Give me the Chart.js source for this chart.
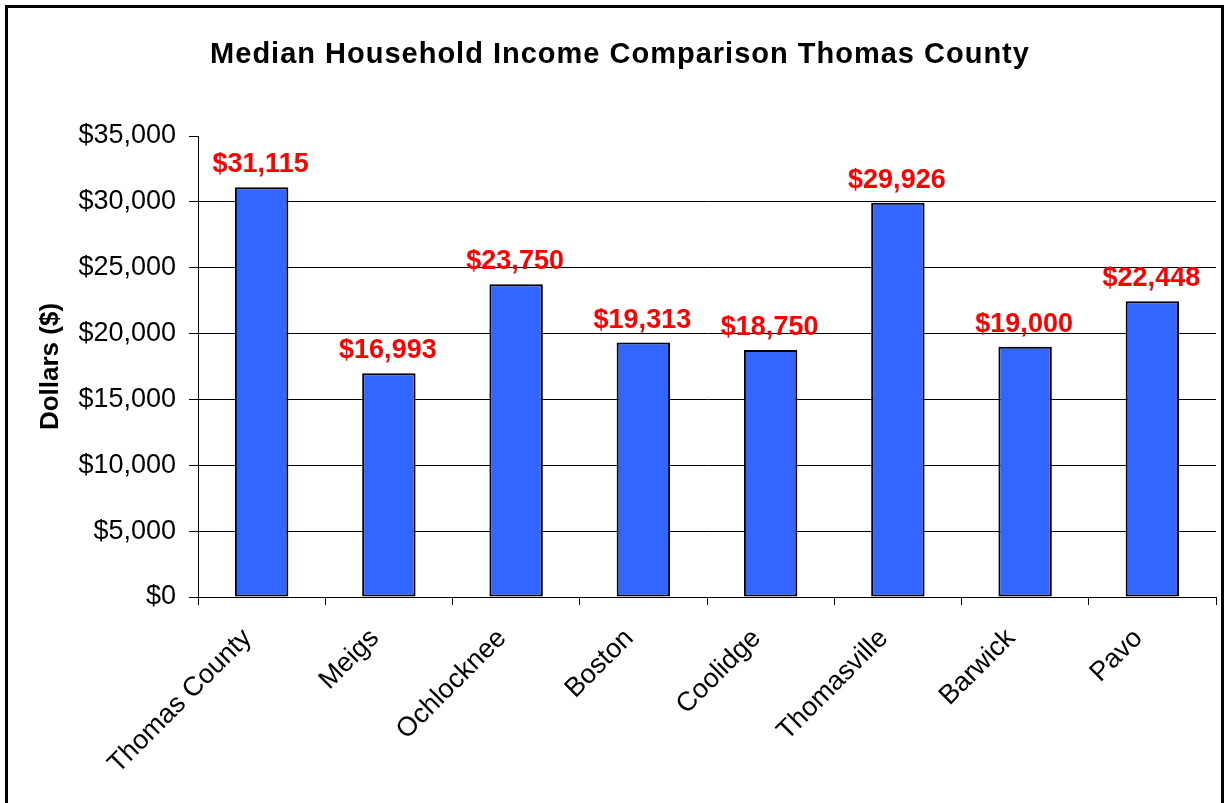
<!DOCTYPE html>
<html>
<head>
<meta charset="utf-8">
<title>Median Household Income Comparison Thomas County</title>
<script src="https://cdn.jsdelivr.net/npm/chart.js@4.4.0/dist/chart.umd.min.js"></script>
<style>
  html, body { margin: 0; padding: 0; background: #fff; }
  canvas { display: block; }
</style>
</head>
<body>
<canvas id="incomeChart" width="1228" height="803"></canvas>
<script>
// places and their median household income
const places = ['Thomas County', 'Meigs', 'Ochlocknee', 'Boston', 'Coolidge', 'Thomasville', 'Barwick', 'Pavo'];
const medianIncome = [31115, 16993, 23750, 19313, 18750, 29926, 19000, 22448];
const yMin = 0;
const yMax = 35000;
const yStep = 5000;

const FONT = "'Liberation Sans', Arial, sans-serif";
const dollars = v => '$' + Number(v).toLocaleString('en-US');

// white page, frame, title and axis title
const framePlugin = {
    id: 'frame',
    beforeDraw(chart) {
        const c = chart.ctx;
        c.save();
        c.fillStyle = '#fff';
        c.fillRect(0, 0, chart.width, chart.height);
        c.restore();
    },
    afterDraw(chart) {
        const c = chart.ctx;
        const area = chart.chartArea;
        c.save();
        c.strokeStyle = '#000';
        c.lineWidth = 3;
        c.strokeRect(6.5, 6.5, 1216, 830);

        c.fillStyle = '#000';
        c.font = 'bold 29px ' + FONT;
        c.letterSpacing = '1px';
        c.textAlign = 'center';
        c.textBaseline = 'alphabetic';
        c.fillText('Median Household Income Comparison Thomas County', 620, 63);
        c.letterSpacing = '0px';

        c.translate(58, (area.top + area.bottom) / 2);
        c.rotate(-Math.PI / 2);
        c.font = 'bold 26px ' + FONT;
        c.fillText('Dollars ($)', 0, 0);
        c.restore();
    }
};

// rotated category names under the axis
const categoryLabels = {
    id: 'categoryLabels',
    afterDraw(chart) {
        const c = chart.ctx;
        const xs = chart.scales.x;
        c.save();
        c.fillStyle = '#000';
        c.font = '27px ' + FONT;
        c.textAlign = 'right';
        c.textBaseline = 'middle';
        places.forEach((name, i) => {
            c.save();
            c.translate(xs.getPixelForTick(i) - 14, xs.top + 37);
            c.rotate(-Math.PI / 4);
            c.fillText(name, 0, 0);
            c.restore();
        });
        c.restore();
    }
};

// red value above each bar
const valueLabels = {
    id: 'valueLabels',
    afterDatasetsDraw(chart) {
        const c = chart.ctx;
        const meta = chart.getDatasetMeta(0);
        c.save();
        c.fillStyle = '#ff0000';
        c.font = 'bold 27px ' + FONT;
        c.textAlign = 'center';
        c.textBaseline = 'alphabetic';
        meta.data.forEach((bar, i) => {
            c.fillText(dollars(medianIncome[i]), bar.x - 1, bar.y - 15);
        });
        c.restore();
    }
};

new Chart(document.getElementById('incomeChart'), {
    type: 'bar',
    data: {
        labels: places,
        datasets: [{
            data: medianIncome,
            backgroundColor: '#3366ff',
            borderColor: '#000',
            borderWidth: 2,
            borderSkipped: false,
            barPercentage: 0.42,
            categoryPercentage: 1
        }]
    },
    options: {
        responsive: false,
        animation: false,
        devicePixelRatio: 1,
        layout: { padding: { top: 136, right: 12, bottom: 0, left: 0 } },
        plugins: {
            legend: { display: false },
            title: { display: false },
            tooltip: { enabled: false }
        },
        scales: {
            x: {
                grid: {
                    offset: true,
                    drawOnChartArea: false,
                    color: '#000',
                    tickLength: 8
                },
                border: { color: '#000', width: 1 },
                ticks: { display: false },
                afterFit(scale) { scale.height = 206; }
            },
            y: {
                min: yMin,
                max: yMax,
                ticks: {
                    stepSize: yStep,
                    padding: 13,
                    color: '#000',
                    font: { family: FONT, size: 27 },
                    callback: v => dollars(v)
                },
                grid: {
                    color: ctx => (ctx.tick && ctx.tick.value === yMax) ? 'rgba(0,0,0,0)' : '#000',
                    tickColor: '#000',
                    tickLength: 9,
                    lineWidth: 1
                },
                border: { color: '#000', width: 1 },
                afterFit(scale) { scale.width = 198; }
            }
        }
    },
    plugins: [framePlugin, categoryLabels, valueLabels]
});
</script>
</body>
</html>
